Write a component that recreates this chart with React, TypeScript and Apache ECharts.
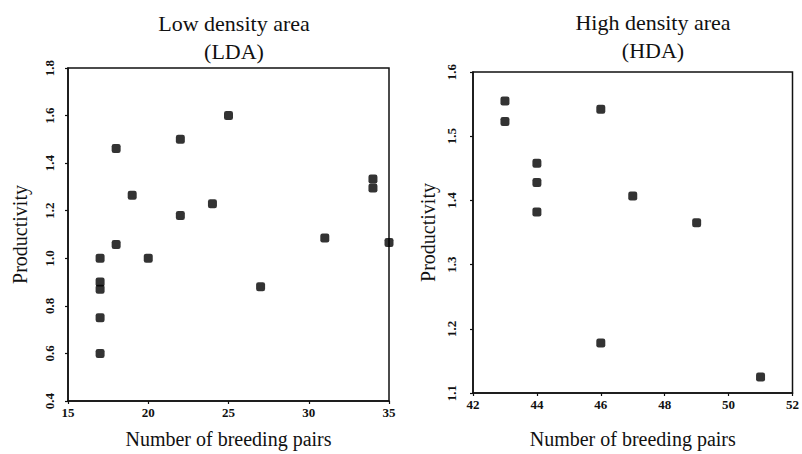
import React, { useEffect, useRef } from "react";
import * as echarts from "echarts";

const ldaPairs = [17, 17, 17, 17, 17, 18, 18, 19, 20, 22, 22, 24, 25, 27, 31, 34, 34, 35];
const ldaProductivity = [0.6, 0.75, 0.87, 0.9, 1.0, 1.058, 1.462, 1.265, 1.0, 1.5, 1.18, 1.229, 1.6, 0.88, 1.085, 1.333, 1.296, 1.066];

const hdaPairs = [43, 43, 44, 44, 44, 46, 46, 47, 49, 51];
const hdaProductivity = [1.555, 1.523, 1.458, 1.428, 1.382, 1.542, 1.178, 1.407, 1.365, 1.125];

const titles = ["Low density area\n(LDA)", "High density area\n(HDA)"];
const xName = "Number of breeding pairs";
const yName = "Productivity";

const FONT = "Liberation Serif";
const INK = "#111";

export default function App() {
  const ref = useRef<HTMLDivElement>(null);
  useEffect(() => {
    if (!ref.current) return;
    const chart = echarts.init(ref.current, null, { renderer: "svg" });
    const axisLine = { show: true, lineStyle: { color: INK, width: 1.5 } };
    const axisTick = { show: true, length: 3, lineStyle: { color: INK, width: 1.2 } };
    const xLabel = { color: INK, fontFamily: FONT, fontSize: 13, fontWeight: "bold" as const, margin: 5 };
    const yLabel = { color: INK, fontFamily: FONT, fontSize: 13, fontWeight: "bold" as const, rotate: 90 };
    const nameStyle = { color: INK, fontFamily: FONT, fontSize: 20 };
    const titleStyle = { fontFamily: FONT, fontSize: 22, fontWeight: "normal" as const, color: INK, lineHeight: 28 };
    chart.setOption({
      animation: false,
      backgroundColor: "#fff",
      title: [
        { text: titles[0], left: 229, top: 4, textAlign: "center", textStyle: titleStyle },
        { text: titles[1], left: 648, top: 3, textAlign: "center", textStyle: titleStyle },
      ],
      grid: [
        { left: 68, top: 68, width: 321, height: 337, show: true, borderColor: INK, borderWidth: 1.5, backgroundColor: "transparent" },
        { left: 473, top: 72, width: 324, height: 336, show: true, borderColor: INK, borderWidth: 1.5, backgroundColor: "transparent" },
      ],
      xAxis: [
        {
          gridIndex: 0, type: "value", min: 15, max: 35, interval: 5,
          axisLine, axisTick, splitLine: { show: false }, axisLabel: xLabel,
          name: xName, nameLocation: "middle", nameGap: 28, nameTextStyle: nameStyle,
        },
        {
          gridIndex: 1, type: "value", min: 42, max: 52, interval: 2,
          axisLine, axisTick, splitLine: { show: false }, axisLabel: xLabel,
          name: xName, nameLocation: "middle", nameGap: 36, nameTextStyle: nameStyle,
        },
      ],
      yAxis: [
        {
          gridIndex: 0, type: "value", min: 0.4, max: 1.8, interval: 0.2,
          axisLine, axisTick, splitLine: { show: false },
          axisLabel: { ...yLabel, margin: 12, formatter: (v: number) => v.toFixed(1) },
          name: yName, nameLocation: "middle", nameGap: 38, nameRotate: 90, nameTextStyle: nameStyle,
        },
        {
          gridIndex: 1, type: "value", min: 1.1, max: 1.6, interval: 0.1,
          axisLine, axisTick, splitLine: { show: false },
          axisLabel: { ...yLabel, margin: 15, formatter: (v: number) => v.toFixed(1) },
          name: yName, nameLocation: "middle", nameGap: 35, nameRotate: 90, nameTextStyle: nameStyle,
        },
      ],
      series: [
        {
          type: "scatter", xAxisIndex: 0, yAxisIndex: 0, symbol: "roundRect", symbolSize: 9,
          itemStyle: { color: "#000" },
          data: ldaPairs.map((x, i) => [x, ldaProductivity[i]]),
        },
        {
          type: "scatter", xAxisIndex: 1, yAxisIndex: 1, symbol: "roundRect", symbolSize: 9,
          itemStyle: { color: "#000" },
          data: hdaPairs.map((x, i) => [x, hdaProductivity[i]]),
        },
      ],
    });
    return () => chart.dispose();
  }, []);
  return <div ref={ref} style={{ width: 802, height: 454, position: "absolute", left: 0, top: 0 }} />;
}
